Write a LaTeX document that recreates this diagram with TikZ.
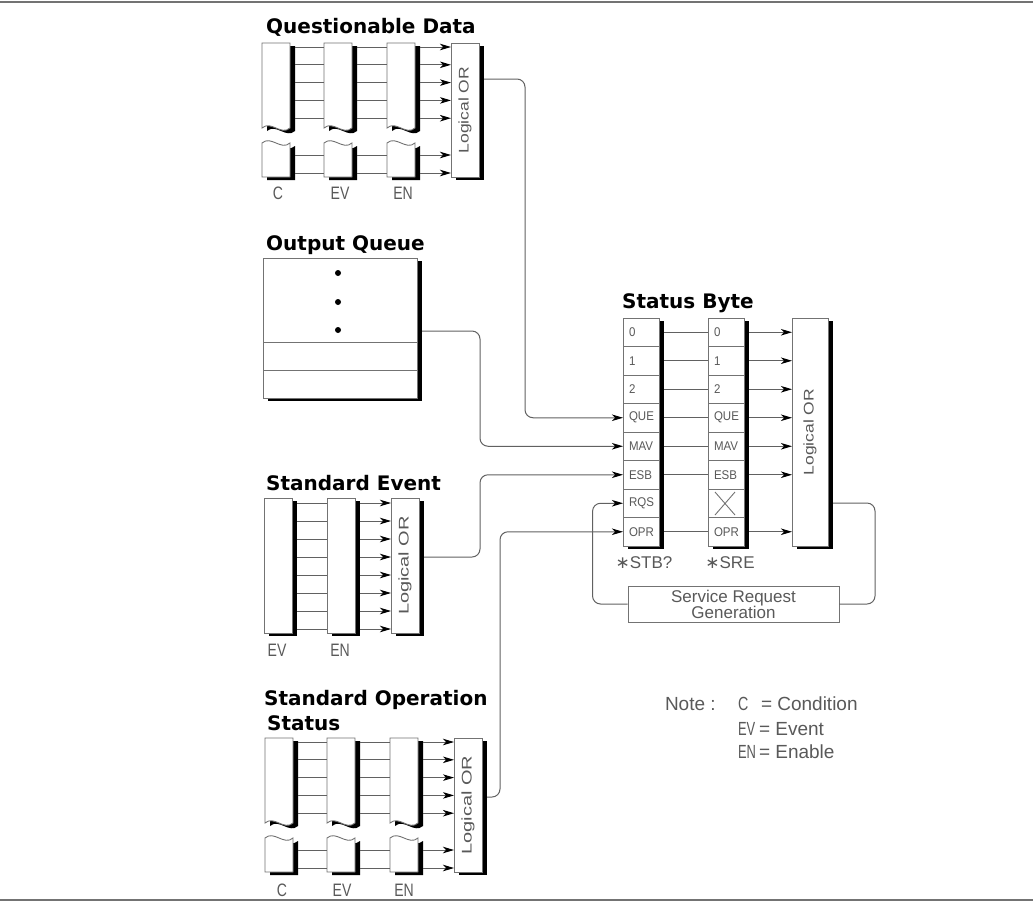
\documentclass[tikz,border=0pt]{standalone}
\usepackage{fontspec}
\setmainfont{Liberation Sans}
\newfontfamily\tfont{DejaVu Sans}
\usetikzlibrary{arrows.meta,shadows}
\newcommand\brokenreg[2]{%
  \begin{scope}[shift={(5,3)}]
    \fill[black] (#2,43) -- ({#2+28},43) -- ({#2+28},128) .. controls ({#2+19},136) and ({#2+9},120) .. (#2,128) -- cycle;
    \fill[black] (#2,143) .. controls ({#2+9},135) and ({#2+19},151) .. ({#2+28},143) -- ({#2+28},177) -- (#2,177) -- cycle;
  \end{scope}
  \filldraw[regpath] (#2,43) -- ({#2+28},43) -- ({#2+28},128) .. controls ({#2+19},136) and ({#2+9},120) .. (#2,128) -- cycle;
  \filldraw[regpath] (#2,143) .. controls ({#2+9},135) and ({#2+19},151) .. ({#2+28},143) -- ({#2+28},177) -- (#2,177) -- cycle;
  \node[area, minimum width=28, minimum height=134, anchor=north west] (#1) at (#2,43) {};
}
\newcommand\qdlines[4]{%
  \foreach \d in {4,21.8,39.6,57.4,75.2,112,130}{
    \draw[conn] ([shift={(5,\d)}]#1.north east) -- ([shift={(0,\d)}]#2.north west);
    \draw[conn] ([shift={(5,\d)}]#2.north east) -- ([shift={(0,\d)}]#3.north west);
    \draw[conn,arr] ([shift={(5,\d)}]#3.north east) -- ([shift={(0,\d)}]#4.north west);
  }%
}
\begin{document}
\begin{tikzpicture}[x=1pt,y=-1pt,
  regpath/.style={draw=black!55, fill=white, line width=0.9pt},
  reg/.style={draw=black!55, fill=white, line width=0.9pt, inner sep=0pt, outer sep=0pt,
    general shadow={fill=black, shadow xshift=5pt, shadow yshift=-3pt}},
  area/.style={inner sep=0pt, outer sep=0pt},
  conn/.style={draw=black!62, line width=1pt, rounded corners=8pt},
  arr/.style={-{Stealth[length=11pt,width=6.5pt,inset=3pt,black]}},
  ttl/.style={font=\tfont\bfseries\fontsize{20}{24}\selectfont, inner sep=0pt, anchor=base west},
  lbl/.style={text=black!65, inner sep=0pt, outer sep=0pt},
  labfont/.style={font=\fontsize{18}{20}\selectfont},
  rowfont/.style={font=\fontsize{11.5}{13}\selectfont},
  orA/.style={font=\fontsize{17.5}{20}\selectfont},
  orB/.style={font=\fontsize{20}{22}\selectfont},
  notefont/.style={font=\fontsize{19}{22}\selectfont},
  cmdfont/.style={font=\fontsize{17}{20}\selectfont}
]
\useasboundingbox (0,0) rectangle (1033,903);
\fill[white] (0,0) rectangle (1033,903);
\draw[black!55, line width=1.5pt] (0,2) -- (1033,2) (0,900) -- (1033,900);

% titles
\node[ttl] (tqd) at (266,33) {Questionable Data};
\node[ttl] (toq) at (266,250) {Output Queue};
\node[ttl] (tse) at (266,490) {Standard Event};
\node[ttl] (tsos) at (264,705) {Standard Operation};
\node[ttl] (tsos2) at (267,730) {Status};
\node[ttl] (tsb) at (622,308) {Status Byte};

% Questionable Data
\brokenreg{qdC}{262}
\brokenreg{qdEV}{324}
\brokenreg{qdEN}{387}
\node[reg, minimum width=28, minimum height=134, anchor=north west] (qdOR) at (451,43) {};
\node[lbl, orA, rotate=90] at (qdOR.center) {\scalebox{1}[0.8]{Logical OR}};
\qdlines{qdC}{qdEV}{qdEN}{qdOR}
\node[lbl, labfont] at ([shift={(2,16)}]qdC.south) {\scalebox{.78}[1]{C}};
\node[lbl, labfont] at ([shift={(2,16)}]qdEV.south) {\scalebox{.78}[1]{EV}};
\node[lbl, labfont] at ([shift={(2,16)}]qdEN.south) {\scalebox{.78}[1]{EN}};

% Output Queue
\node[reg, minimum width=154, minimum height=140, anchor=north west] (oq) at (263,258) {};
\draw[draw=black!55, line width=0.9pt] ([shift={(0,84)}]oq.north west) -- ([shift={(0,84)}]oq.north east);
\draw[draw=black!55, line width=0.9pt] ([shift={(0,112)}]oq.north west) -- ([shift={(0,112)}]oq.north east);
\foreach \d in {15,44,72}{\fill[black] ([shift={(75,\d)}]oq.north west) circle (3);}

% Standard Event
\node[reg, minimum width=28, minimum height=135, anchor=north west] (seEV) at (264,498) {};
\node[reg, minimum width=28, minimum height=135, anchor=north west] (seEN) at (327,498) {};
\node[reg, minimum width=28, minimum height=135, anchor=north west] (seOR) at (391,498) {};
\node[lbl, orB, rotate=90] at (seOR.center) {\scalebox{1}[0.7]{Logical OR}};
\foreach \d in {5,23,41,59,77,95,113,131}{
  \draw[conn] ([shift={(5,\d)}]seEV.north east) -- ([shift={(0,\d)}]seEN.north west);
  \draw[conn,arr] ([shift={(5,\d)}]seEN.north east) -- ([shift={(0,\d)}]seOR.north west);
}
\node[lbl, labfont] at ([shift={(-1,17)}]seEV.south) {\scalebox{.78}[1]{EV}};
\node[lbl, labfont] at ([shift={(-1,17)}]seEN.south) {\scalebox{.78}[1]{EN}};

% Standard Operation Status
\begin{scope}[shift={(3,695)}]
\brokenreg{sosC}{262}
\brokenreg{sosEV}{324}
\brokenreg{sosEN}{387}
\node[reg, minimum width=28, minimum height=134, anchor=north west] (sosOR) at (451,43) {};
\node[lbl, orB, rotate=90] at (sosOR.center) {\scalebox{1}[0.7]{Logical OR}};
\qdlines{sosC}{sosEV}{sosEN}{sosOR}
\node[lbl, labfont] at ([shift={(3,18)}]sosC.south) {\scalebox{.78}[1]{C}};
\node[lbl, labfont] at ([shift={(1,18)}]sosEV.south) {\scalebox{.78}[1]{EV}};
\node[lbl, labfont] at ([shift={(0,18)}]sosEN.south) {\scalebox{.78}[1]{EN}};
\end{scope}

% Status Byte
\node[reg, minimum width=36, minimum height=228, anchor=north west] (stb) at (623,318) {};
\node[reg, minimum width=36, minimum height=228, anchor=north west] (sre) at (708,318) {};
\node[reg, minimum width=36, minimum height=228, anchor=north west] (sbor) at (792,318) {};
\node[lbl, orA, rotate=90] at (sbor.center) {\scalebox{1}[0.8]{Logical OR}};
\foreach \i in {1,...,7}{
  \draw[draw=black!55, line width=0.9pt] ([shift={(0,28.5*\i)}]stb.north west) -- ([shift={(0,28.5*\i)}]stb.north east);
  \draw[draw=black!55, line width=0.9pt] ([shift={(0,28.5*\i)}]sre.north west) -- ([shift={(0,28.5*\i)}]sre.north east);
}
\foreach \i in {0,...,7}{
  \coordinate (stb-\i) at ([shift={(0,28.5*\i+14.25)}]stb.north west);
  \coordinate (stbo-\i) at ([shift={(5,28.5*\i+14.25)}]stb.north east);
  \coordinate (sre-\i) at ([shift={(0,28.5*\i+14.25)}]sre.north west);
  \coordinate (sreo-\i) at ([shift={(5,28.5*\i+14.25)}]sre.north east);
  \coordinate (sbor-\i) at ([shift={(0,28.5*\i+14.25)}]sbor.north west);
}
\foreach \t [count=\i from 0] in {0,1,2,QUE,MAV,ESB,RQS,OPR}{
  \node[lbl, rowfont, anchor=west] at ([xshift=6pt]stb-\i) {\scalebox{1}[1.1]{\t}};
}
\foreach \t [count=\i from 0] in {0,1,2,QUE,MAV,ESB}{
  \node[lbl, rowfont, anchor=west] at ([xshift=6pt]sre-\i) {\scalebox{1}[1.1]{\t}};
}
\node[lbl, rowfont, anchor=west] at ([xshift=6pt]sre-7) {\scalebox{1}[1.1]{OPR}};
\draw[draw=black!55, line width=0.9pt] ([shift={(7,174)}]sre.north west) -- ([shift={(27,197)}]sre.north west)
  ([shift={(27,174)}]sre.north west) -- ([shift={(7,197)}]sre.north west);
\foreach \i in {0,1,2,3,4,5,7}{
  \draw[conn] (stbo-\i) -- (sre-\i);
  \draw[conn,arr] (sreo-\i) -- (sbor-\i);
}
\node[lbl, cmdfont] at ([shift={(3,17)}]stb.south) {{\tfont ∗}STB?};
\node[lbl, cmdfont] at ([shift={(4,17)}]sre.south) {{\tfont ∗}SRE};

% Service Request Generation
\node[draw=black!55, line width=0.9pt, fill=white, minimum width=211, minimum height=36, inner sep=0pt,
  align=center, text=black!65, font=\fontsize{17}{16}\selectfont] (srg) at (733.5,604) {Service Request\\Generation};

% connectors
\draw[conn,arr] ([shift={(5,36)}]qdOR.north east) -- ++(41,0) |- (stb-3);
\draw[conn,arr] ([shift={(5,73)}]oq.north east) -- ++(58,0) |- (stb-4);
\draw[conn,arr] ([shift={(5,59)}]seOR.north east) -- ++(56,0) |- (stb-5);
\draw[conn,arr] ([shift={(5,59)}]sosOR.north east) -- ++(13,0) |- (stb-7);
\draw[conn] ([shift={(5,185)}]sbor.north east) -- ++(42,0) |- (srg.east);
\draw[conn,arr] (srg.west) -- ++(-35,0) |- (stb-6);

% note
\node[lbl, notefont, anchor=base west] (note) at (665,710) {Note :};
\node[lbl, notefont, anchor=base west] at (738,710) {\scalebox{.75}[1]{C}};
\node[lbl, notefont, anchor=base west] at (761,710) {= Condition};
\node[lbl, notefont, anchor=base west] at (738,735) {\scalebox{.68}[1]{EV}};
\node[lbl, notefont, anchor=base west] at (759,735) {= Event};
\node[lbl, notefont, anchor=base west] at (738,758) {\scalebox{.68}[1]{EN}};
\node[lbl, notefont, anchor=base west] at (759,758) {= Enable};
\end{tikzpicture}
\end{document}
